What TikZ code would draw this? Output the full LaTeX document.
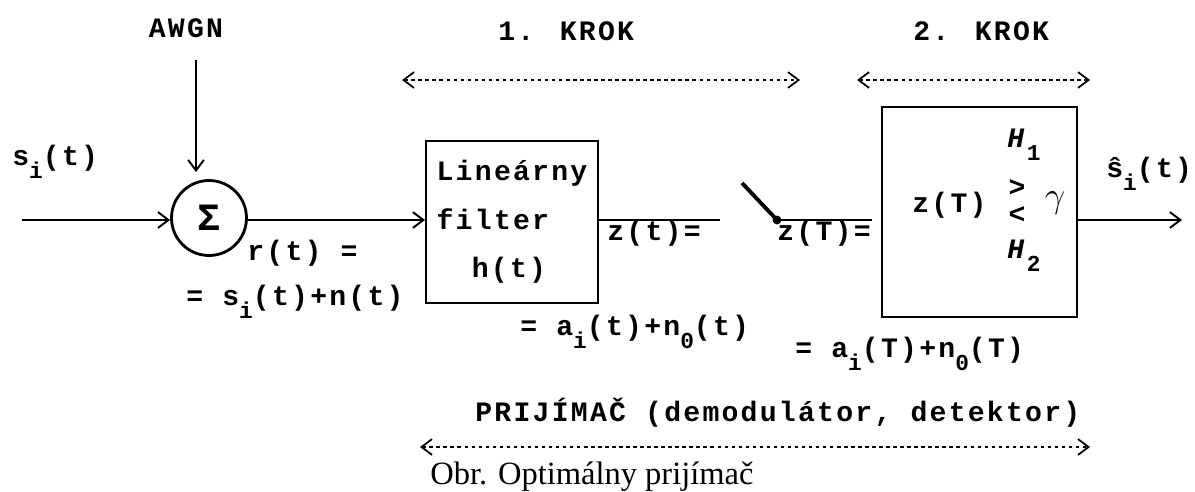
\documentclass[tikz,border=0pt]{standalone}
\usepackage{fontspec}
\setmainfont{Liberation Serif}
\newfontfamily\prn[LetterSpace=8]{Liberation Mono}
\usetikzlibrary{arrows.meta,calc}
\newcommand\dn[1]{\raisebox{-0.48em}{\fontsize{13}{13}\selectfont #1}}

\tikzset{
  >={Straight Barb[length=6pt,width=9pt]},
  txt/.style={font=\prn\bfseries\fontsize{16}{27.5}\selectfont, inner sep=0pt},
  blk/.style={draw, line width=1.1pt},
  wire/.style={line width=1.1pt},
  span/.style={<->, line width=1pt, dash pattern=on 2pt off 2pt},
}

\begin{document}
\begin{tikzpicture}[x=0.02cm,y=-0.02cm]
  \useasboundingbox (0,0) rectangle (1195,491);
  % blocks
  \node[circle, draw, line width=1.6pt, minimum size=1.5cm, inner sep=0pt,
        font=\prn\bfseries\fontsize{22}{22}\selectfont] (sum) at (209,218) {Σ};
  \node[blk, txt, minimum width=3.44cm, minimum height=3.24cm, align=left] (filt)
        at (512,222) {Lineárny\\filter\\\hspace*{1.25em}h(t)};
  \node[blk, minimum width=3.9cm, minimum height=4.2cm] (dec) at (979.5,212) {};
  \node[txt, anchor=base west] (zT) at (912,212) {z(T)};
  \node[txt, anchor=base west] (h1) at (1007,147) {\textit{H}\dn{1}};
  \node[txt] (gt) at (1017,188) {>};
  \node[txt] (lt) at (1017,215) {<};
  \node[txt, font=\fontsize{20}{20}\selectfont] (gam) at (1055,203) {$\gamma$};
  \node[txt, anchor=base west] (h2) at (1007,258) {\textit{H}\dn{2}};

  % signal path
  \coordinate (in) at (22,220);
  \coordinate (noise) at (196,60);
  \coordinate (zt) at (720,220);
  \coordinate (swa) at (742,183);
  \coordinate (swb) at (777,220);
  \coordinate (zT2) at (872,220);
  \coordinate (out) at (1182,220);
  \draw[wire,->] (noise) -- (196,172);
  \draw[wire,->] (in) -- (sum.west |- in);
  \draw[wire,->] (sum.east |- in) -- (filt.west |- in);
  \draw[wire] (filt.east |- in) -- (zt);
  \draw[line width=2.2pt] (swa) -- (swb);
  \fill (swb) circle (2.5pt);
  \draw[wire] (swb) -- (zT2);
  \draw[wire,->] (dec.east |- in) -- (out);

  % labels
  \node[txt, anchor=base] (awgn) at (186,37) {AWGN};
  \node[txt, anchor=base west] (si) at (12,165) {s\dn{i}(t)};
  \node[txt, anchor=base west] (sh) at (1106,177) {ŝ\dn{i}(t)};
  \node[txt, anchor=base west] (rt) at (247,260) {r(t) =};
  \node[txt, anchor=base west] (rt2) at (186,305) {= s\dn{i}(t)+n(t)};
  \node[txt, anchor=base west] (zl) at (607,240) {z(t)=};
  \node[txt, anchor=base west] (zl2) at (777,240) {z(T)=};
  \node[txt, anchor=base west] (az) at (520,335) {= a\dn{i}(t)+n\dn{0}(t)};
  \node[txt, anchor=base west] (aT) at (795,357) {= a\dn{i}(T)+n\dn{0}(T)};

  % steps
  \node[txt, anchor=base west] (k1) at (498,40) {1. KROK};
  \node[txt, anchor=base west] (k2) at (913,40) {2. KROK};
  \node[txt, anchor=base west] (rx) at (475,421) {PRIJÍMAČ (demodulátor, detektor)};
  \coordinate (k1a) at (402,80);  \coordinate (k1b) at (800,80);
  \coordinate (k2a) at (857,80);  \coordinate (k2b) at (1090,80);
  \coordinate (rxa) at (420,447); \coordinate (rxb) at (1090,447);
  \draw[span] (k1a) -- (k1b);
  \draw[span] (k2a) -- (k2b);
  \draw[span] (rxa) -- (rxb);

  \node[font=\fontsize{18.5}{18.5}\selectfont, anchor=base west, inner sep=0pt] (cap) at (430,484) {Obr. Optimálny prijímač};
\end{tikzpicture}
\end{document}
